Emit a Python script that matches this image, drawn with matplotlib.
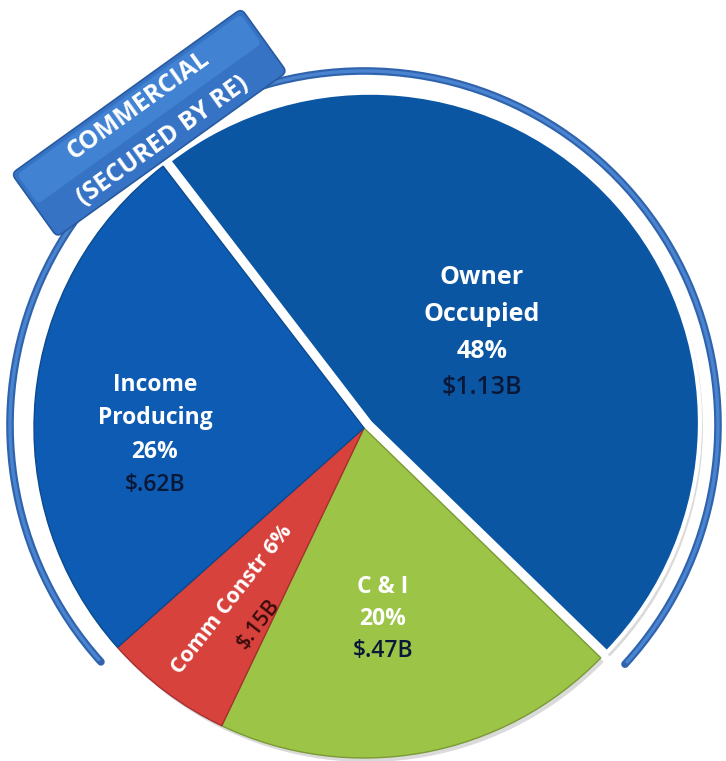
import numpy as np
import matplotlib
matplotlib.use("Agg")
import matplotlib.pyplot as plt
from matplotlib.patches import Arc, FancyBboxPatch
from matplotlib.transforms import Affine2D

plt.rcParams['font.family'] = ['Open Sans', 'DejaVu Sans']

# loan balances in $ billions
segments = ["Owner\nOccupied", "C & I", "Comm Constr", "Income\nProducing"]
balances = [1.13, 0.47, 0.15, 0.62]
colors = ["#0b56a3", "#9cc446", "#d8423c", "#0d5bb2"]
explode_px = [8, 0, 0, 0]

group_title = ["COMMERCIAL", "(SECURED BY RE)"]

W, H = 726, 761


def img(x, y):
    # pixel position measured from the top-left corner -> data coords
    return x, H - y


def money(v):
    s = "$%.2fB" % v
    return s.replace("$0.", "$.")


total = sum(balances)
pcts = [int(round(v / total * 100)) for v in balances]

fig = plt.figure(figsize=(W / 100, H / 100), dpi=100)
ax = fig.add_axes([0, 0, 1, 1])

cx, cy = img(364, 428)
R = 330

# ring grouping owner occupied + income producing
ring_c = img(364, 425)
ring_d = 2 * 354
ax.add_patch(Arc(ring_c, ring_d, ring_d, theta1=-42.5, theta2=222,
                 lw=5.5, color="#2f64ad", capstyle="round", zorder=1))
ax.add_patch(Arc(ring_c, ring_d, ring_d, theta1=-42, theta2=221.5,
                 lw=2.4, color="#4a84d0", capstyle="round", zorder=1.1))

# the tab holding the group title
tab_ang = 35.66
tab_tr = Affine2D().rotate_deg(tab_ang).translate(*img(57, 237)) + ax.transData
ax.add_patch(FancyBboxPatch((0, 0), 283, 78, boxstyle="round,pad=0,rounding_size=6",
                            fc="#3673c4", ec="#285aa0", lw=1.2, zorder=2, transform=tab_tr))
ax.add_patch(FancyBboxPatch((4, 38), 275, 36, boxstyle="round,pad=0,rounding_size=5",
                            fc="#4282d2", ec="none", zorder=2.1, transform=tab_tr))
ax.text(*img(138, 105), group_title[0], rotation=tab_ang, rotation_mode="anchor",
        ha="center", va="center", color="white", fontsize=18, fontweight="bold", zorder=3)
ax.text(*img(163, 141), group_title[1], rotation=tab_ang, rotation_mode="anchor",
        ha="center", va="center", color="white", fontsize=18, fontweight="bold", zorder=3)

# soft shadow under the pie
ax.pie(balances, radius=R, center=(cx + 3, cy - 4), startangle=127.5, counterclock=False,
       explode=explode_px, colors=["#dadada"] * 4, wedgeprops=dict(lw=0, zorder=2.5))

wedges, _ = ax.pie(balances, radius=R, center=(cx, cy), startangle=127.5, counterclock=False,
                   explode=explode_px, colors=colors,
                   wedgeprops=dict(lw=1.0, edgecolor="#ffffff", zorder=3))
wedges[1].set_edgecolor("#7a9a35")
wedges[2].set_edgecolor("#a83030")
wedges[3].set_edgecolor("#0a4a90")
# white gap where the owner occupied slice is pulled out
wedges[0].set_edgecolor("white")
wedges[0].set_linewidth(3)
for w in wedges:
    w.set_zorder(3)

# slice labels: name lines, percent, then dollar amount
lab_x = [482, 383, None, 155]
lab_top = [278, 587, None, 385]
lab_gap = [36.5, 32, None, 33.3]
lab_size = [18, 16.5, None, 16.5]
for i in (0, 1, 3):
    lines = segments[i].split("\n") + ["%d%%" % pcts[i]]
    y = lab_top[i]
    for s in lines:
        ax.text(*img(lab_x[i], y), s, ha="center", va="center", color="white",
                fontsize=lab_size[i], fontweight="bold", zorder=5)
        y += lab_gap[i]
    ax.text(*img(lab_x[i], y), money(balances[i]), ha="center", va="center",
            color="#0a1838", fontsize=lab_size[i], fontweight="semibold", zorder=5)

# construction slice is thin, so its label runs along the radius
rot = 52
ax.text(*img(232, 600), "%s %d%%" % (segments[2], pcts[2]), rotation=rot,
        rotation_mode="anchor", ha="center", va="center", color="white",
        fontsize=15.5, fontweight="bold", zorder=5)
ax.text(*img(258, 624), money(balances[2]), rotation=rot, rotation_mode="anchor",
        ha="center", va="center", color="#3a0c0c", fontsize=15.5,
        fontweight="semibold", zorder=5)

ax.set_xlim(0, W)
ax.set_ylim(0, H)
ax.set_aspect("equal")
ax.axis("off")

fig.savefig("out.png", dpi=100, facecolor="white")
